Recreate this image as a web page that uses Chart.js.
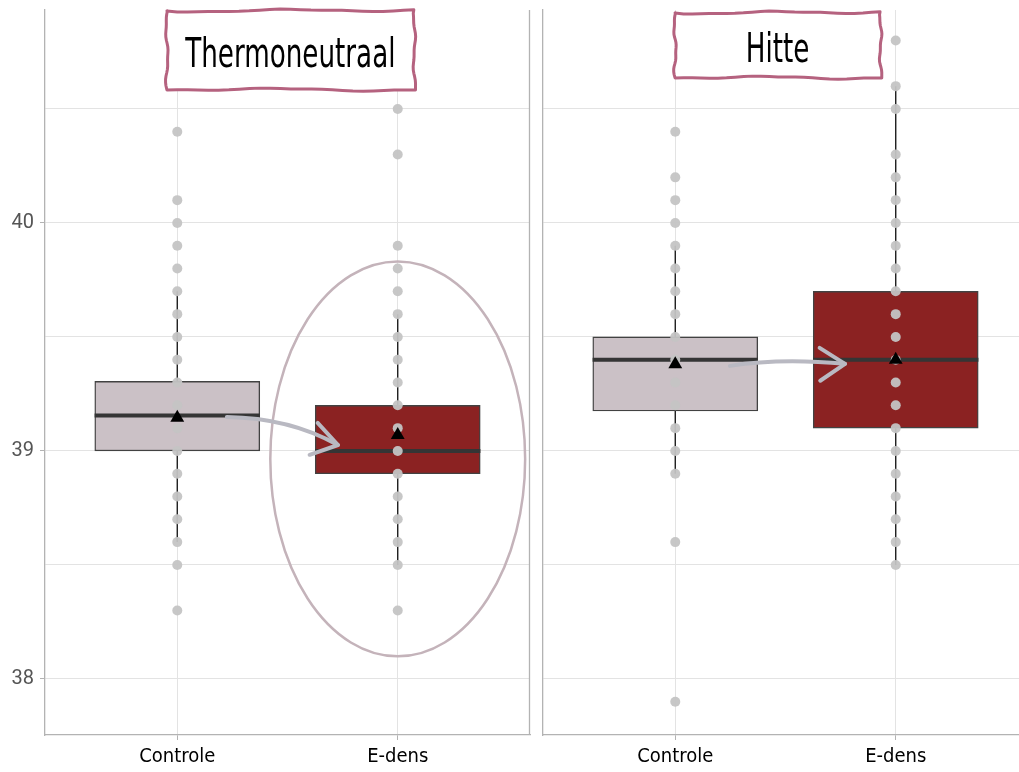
<!DOCTYPE html>
<html>
<head>
<meta charset="utf-8">
<script src="https://cdn.jsdelivr.net/npm/chart.js@4"></script>
<style>
  html, body { margin: 0; padding: 0; background: #fff; overflow: hidden; }
  #wrap { position: relative; width: 1019px; height: 772px; overflow: hidden; }
  #links { position: absolute; left: 0; top: 0; }
  #rechts { position: absolute; left: 531px; top: 0; }
</style>
</head>
<body>
<div id="wrap">
  <canvas id="links" width="531" height="772"></canvas>
  <canvas id="rechts" width="497" height="772"></canvas>
</div>
<script>
// categorieen en panelen
const categorieen = ['Controle', 'E-dens'];
const panelen = ['Thermoneutraal', 'Hitte'];
const yTicks = [38, 38.5, 39, 39.5, 40, 40.5];

// Thermoneutraal: losse metingen
const thermoControle = [40.4, 40.1, 40.0, 39.9, 39.8, 39.7, 39.6, 39.5, 39.4, 39.3, 39.2, 39.1, 39.0, 38.9, 38.8, 38.7, 38.6, 38.5, 38.3];
const thermoEdens = [40.5, 40.3, 39.9, 39.8, 39.7, 39.6, 39.5, 39.4, 39.3, 39.2, 39.1, 39.0, 38.9, 38.8, 38.7, 38.6, 38.5, 38.3];
// Thermoneutraal: boxplot (Controle, E-dens)
const thermoQ1 = [39.0, 38.9];
const thermoMediaan = [39.155, 39.0];
const thermoQ3 = [39.305, 39.2];
const thermoMin = [38.6, 38.5];
const thermoMax = [39.7, 39.6];
const thermoGem = [39.145, 39.07];

// Hitte: losse metingen
const hitteControle = [40.4, 40.2, 40.1, 40.0, 39.9, 39.8, 39.7, 39.6, 39.5, 39.4, 39.3, 39.2, 39.1, 39.0, 38.9, 38.6, 37.9];
const hitteEdens = [40.8, 40.6, 40.5, 40.3, 40.2, 40.1, 40.0, 39.9, 39.8, 39.7, 39.6, 39.5, 39.4, 39.3, 39.2, 39.1, 39.0, 38.9, 38.8, 38.7, 38.6, 38.5];
// Hitte: boxplot
const hitteQ1 = [39.175, 39.1];
const hitteMediaan = [39.4, 39.4];
const hitteQ3 = [39.5, 39.7];
const hitteMin = [38.9, 38.5];
const hitteMax = [39.9, 40.6];
const hitteGem = [39.38, 39.4];

// annotaties (in data-eenheden)
const thermoPijl = { van: [1.225, 39.149], via: [1.511, 39.145], naar: [1.729, 39.026] };
const hittePijl = { van: [1.248, 39.373], via: [1.475, 39.408], naar: [1.77, 39.382] };
const thermoEllips = { x: 2.0, y: 38.965, rx: 0.578, ry: 0.866 };

const kleurBox = ['#cbc1c6', '#8b2222'];
const smal = "'Liberation Sans Narrow', 'DejaVu Sans Condensed', 'Roboto Condensed', sans-serif";

// hand-getekende lijn tussen twee punten
function wiebelLijn(ctx, x0, y0, x1, y1, fase) {
  const n = 24;
  for (let i = 1; i <= n; i++) {
    const t = i / n;
    const dx = x1 - x0, dy = y1 - y0;
    const len = Math.hypot(dx, dy);
    const off = Math.sin(t * 9 + fase) * 1.1 + Math.sin(t * 23 + fase * 2) * 0.4;
    ctx.lineTo(x0 + dx * t - dy / len * off, y0 + dy * t + dx / len * off);
  }
}

const decorPlugin = {
  id: 'decor',
  afterDraw(chart, args, opts) {
    const ctx = chart.ctx;
    const a = chart.chartArea;
    const x = chart.scales.x, y = chart.scales.y;
    ctx.save();
    // rechterrand paneel
    if (opts.rechterRand) {
      ctx.strokeStyle = '#b3b3b3';
      ctx.lineWidth = 1.3;
      ctx.beginPath();
      ctx.moveTo(a.right - 0.5, a.top);
      ctx.lineTo(a.right - 0.5, a.bottom);
      ctx.stroke();
    }
    // ellips
    if (opts.ellips) {
      const e = opts.ellips;
      const cx = x.getPixelForValue(e.x), cy = y.getPixelForValue(e.y);
      const rx = x.getPixelForValue(e.x + e.rx) - cx;
      const ry = cy - y.getPixelForValue(e.y + e.ry);
      ctx.strokeStyle = '#c4b3ba';
      ctx.lineWidth = 2.5;
      ctx.beginPath();
      ctx.ellipse(cx, cy, rx, ry, 0, 0, Math.PI * 2);
      ctx.stroke();
    }
    // pijl
    if (opts.pijl) {
      const p = opts.pijl;
      const px = v => [x.getPixelForValue(v[0]), y.getPixelForValue(v[1])];
      const s = px(p.van), c = px(p.via), e = px(p.naar);
      ctx.strokeStyle = '#b9b9c2';
      ctx.lineWidth = 4;
      ctx.lineCap = 'round';
      ctx.lineJoin = 'round';
      ctx.beginPath();
      ctx.moveTo(s[0], s[1]);
      ctx.quadraticCurveTo(c[0], c[1], e[0], e[1]);
      ctx.stroke();
      const hoek = Math.atan2(e[1] - s[1], e[0] - s[0]);
      const L = 30, w = 0.58;
      ctx.beginPath();
      ctx.moveTo(e[0] - L * Math.cos(hoek - w), e[1] - L * Math.sin(hoek - w));
      ctx.lineTo(e[0], e[1]);
      ctx.lineTo(e[0] - L * Math.cos(hoek + w), e[1] - L * Math.sin(hoek + w));
      ctx.stroke();
    }
    // titelkader
    if (opts.titel) {
      const t = opts.titel;
      const x0 = x.getPixelForValue(t.x0), x1 = x.getPixelForValue(t.x1);
      const y0 = a.top + t.top, y1 = a.top + t.top + t.hoogte;
      ctx.fillStyle = '#ffffff';
      ctx.fillRect(x0, y0, x1 - x0, y1 - y0);
      ctx.strokeStyle = '#b5627f';
      ctx.lineWidth = 3;
      ctx.lineJoin = 'round';
      ctx.beginPath();
      ctx.moveTo(x0, y0 + 1);
      wiebelLijn(ctx, x0, y0 + 1, x1, y0, 0.3);
      wiebelLijn(ctx, x1, y0, x1 + 1, y1, 1.7);
      wiebelLijn(ctx, x1 + 1, y1, x0, y1 - 1, 2.9);
      wiebelLijn(ctx, x0, y1 - 1, x0, y0 + 1, 4.1);
      ctx.stroke();
      // smalle letter: horizontaal samendrukken
      ctx.fillStyle = '#000';
      ctx.font = '41px ' + smal;
      ctx.textAlign = 'center';
      ctx.textBaseline = 'alphabetic';
      ctx.translate((x0 + x1) / 2, (y0 + y1) / 2 + 17);
      ctx.scale(0.71, 1);
      ctx.fillText(t.tekst, 0, 0);
    }
    ctx.restore();
  }
};

function maakGrafiek(id, punten, q1, med, q3, lo, hi, gem, extra) {
  const boxen = categorieen.map((c, i) => ({ x: i + 1, y: [q1[i], q3[i]] }));
  const snorren = [];
  const medianen = [];
  categorieen.forEach((c, i) => {
    snorren.push({ x: i + 1, y: lo[i] }, { x: i + 1, y: q1[i] }, { x: i + 1, y: null },
                 { x: i + 1, y: q3[i] }, { x: i + 1, y: hi[i] }, { x: i + 1, y: null });
    medianen.push({ x: i + 1 - 0.375, y: med[i] }, { x: i + 1 + 0.375, y: med[i] }, { x: i + 1, y: null });
  });
  const stippen = [];
  punten.forEach((reeks, i) => reeks.forEach(v => stippen.push({ x: i + 1, y: v })));
  const gemiddelden = gem.map((v, i) => ({ x: i + 1, y: v }));

  return new Chart(document.getElementById(id), {
    type: 'scatter',
    data: {
      datasets: [
        { type: 'bar', data: boxen, backgroundColor: kleurBox, borderColor: '#424242',
          borderWidth: 1.4, borderSkipped: false, barThickness: 165, order: 5 },
        { type: 'line', data: snorren, borderColor: '#1e1e1e', borderWidth: 1.4,
          pointRadius: 0, spanGaps: false, order: 4 },
        { type: 'line', data: medianen, borderColor: '#353535', borderWidth: 4,
          pointRadius: 0, spanGaps: false, order: 3 },
        { type: 'scatter', data: stippen, backgroundColor: 'rgba(196,196,196,0.95)',
          borderWidth: 0, pointRadius: 5, order: 2 },
        { type: 'scatter', data: gemiddelden, pointStyle: 'triangle', backgroundColor: '#000',
          borderWidth: 0, pointRadius: 8, order: 1 }
      ]
    },
    options: {
      responsive: false,
      animation: false,
      layout: { padding: extra.padding, autoPadding: false },
      plugins: {
        legend: { display: false },
        tooltip: { enabled: false },
        decor: extra.decor
      },
      scales: {
        x: {
          type: 'linear', min: 0.4, max: 2.6, offset: false,
          afterBuildTicks: s => { s.ticks = categorieen.map((c, i) => ({ value: i + 1 })); },
          afterFit: s => { s.height = 37; s.paddingLeft = 0; s.paddingRight = 0; },
          ticks: {
            callback: (v, i) => categorieen[i],
            color: '#000', font: { family: smal, size: 20 }, padding: 5,
            autoSkip: false, maxRotation: 0
          },
          grid: { offset: false, color: '#e3e3e3', lineWidth: 1, tickLength: 5, tickColor: '#b3b3b3' },
          border: { display: true, color: '#b3b3b3', width: 1.3 }
        },
        y: {
          type: 'linear', min: 37.754, max: 40.934,
          afterBuildTicks: s => { s.ticks = yTicks.map(v => ({ value: v })); },
          afterFit: s => { s.width = extra.yBreedte; s.paddingTop = 0; s.paddingBottom = 0; },
          ticks: {
            display: extra.yLabels,
            callback: v => Number.isInteger(v) ? String(v) : '',
            color: '#555', font: { family: 'Roboto', size: 20 }, padding: 6
          },
          grid: {
            color: '#e3e3e3', lineWidth: 1, drawTicks: extra.yLabels, tickLength: 5,
            tickColor: c => Number.isInteger(c.tick.value) ? '#b3b3b3' : 'rgba(0,0,0,0)'
          },
          border: { display: true, color: '#b3b3b3', width: 1.3 }
        }
      }
    },
    plugins: [decorPlugin]
  });
}

maakGrafiek('links', [thermoControle, thermoEdens], thermoQ1, thermoMediaan, thermoQ3, thermoMin, thermoMax, thermoGem, {
  padding: { top: 10, right: 1, left: 0, bottom: 0 },
  yBreedte: 45, yLabels: true,
  decor: {
    rechterRand: true,
    ellips: thermoEllips,
    pijl: thermoPijl,
    titel: { tekst: panelen[0], x0: 0.953, x1: 2.073, top: 0, hoogte: 80 }
  }
});

maakGrafiek('rechts', [hitteControle, hitteEdens], hitteQ1, hitteMediaan, hitteQ3, hitteMin, hitteMax, hitteGem, {
  padding: { top: 10, right: 0, left: 0, bottom: 0 },
  yBreedte: 12, yLabels: false,
  decor: {
    rechterRand: false,
    ellips: null,
    pijl: hittePijl,
    titel: { tekst: panelen[1], x0: 0.999, x1: 1.929, top: 2, hoogte: 66 }
  }
});
</script>
</body>
</html>
